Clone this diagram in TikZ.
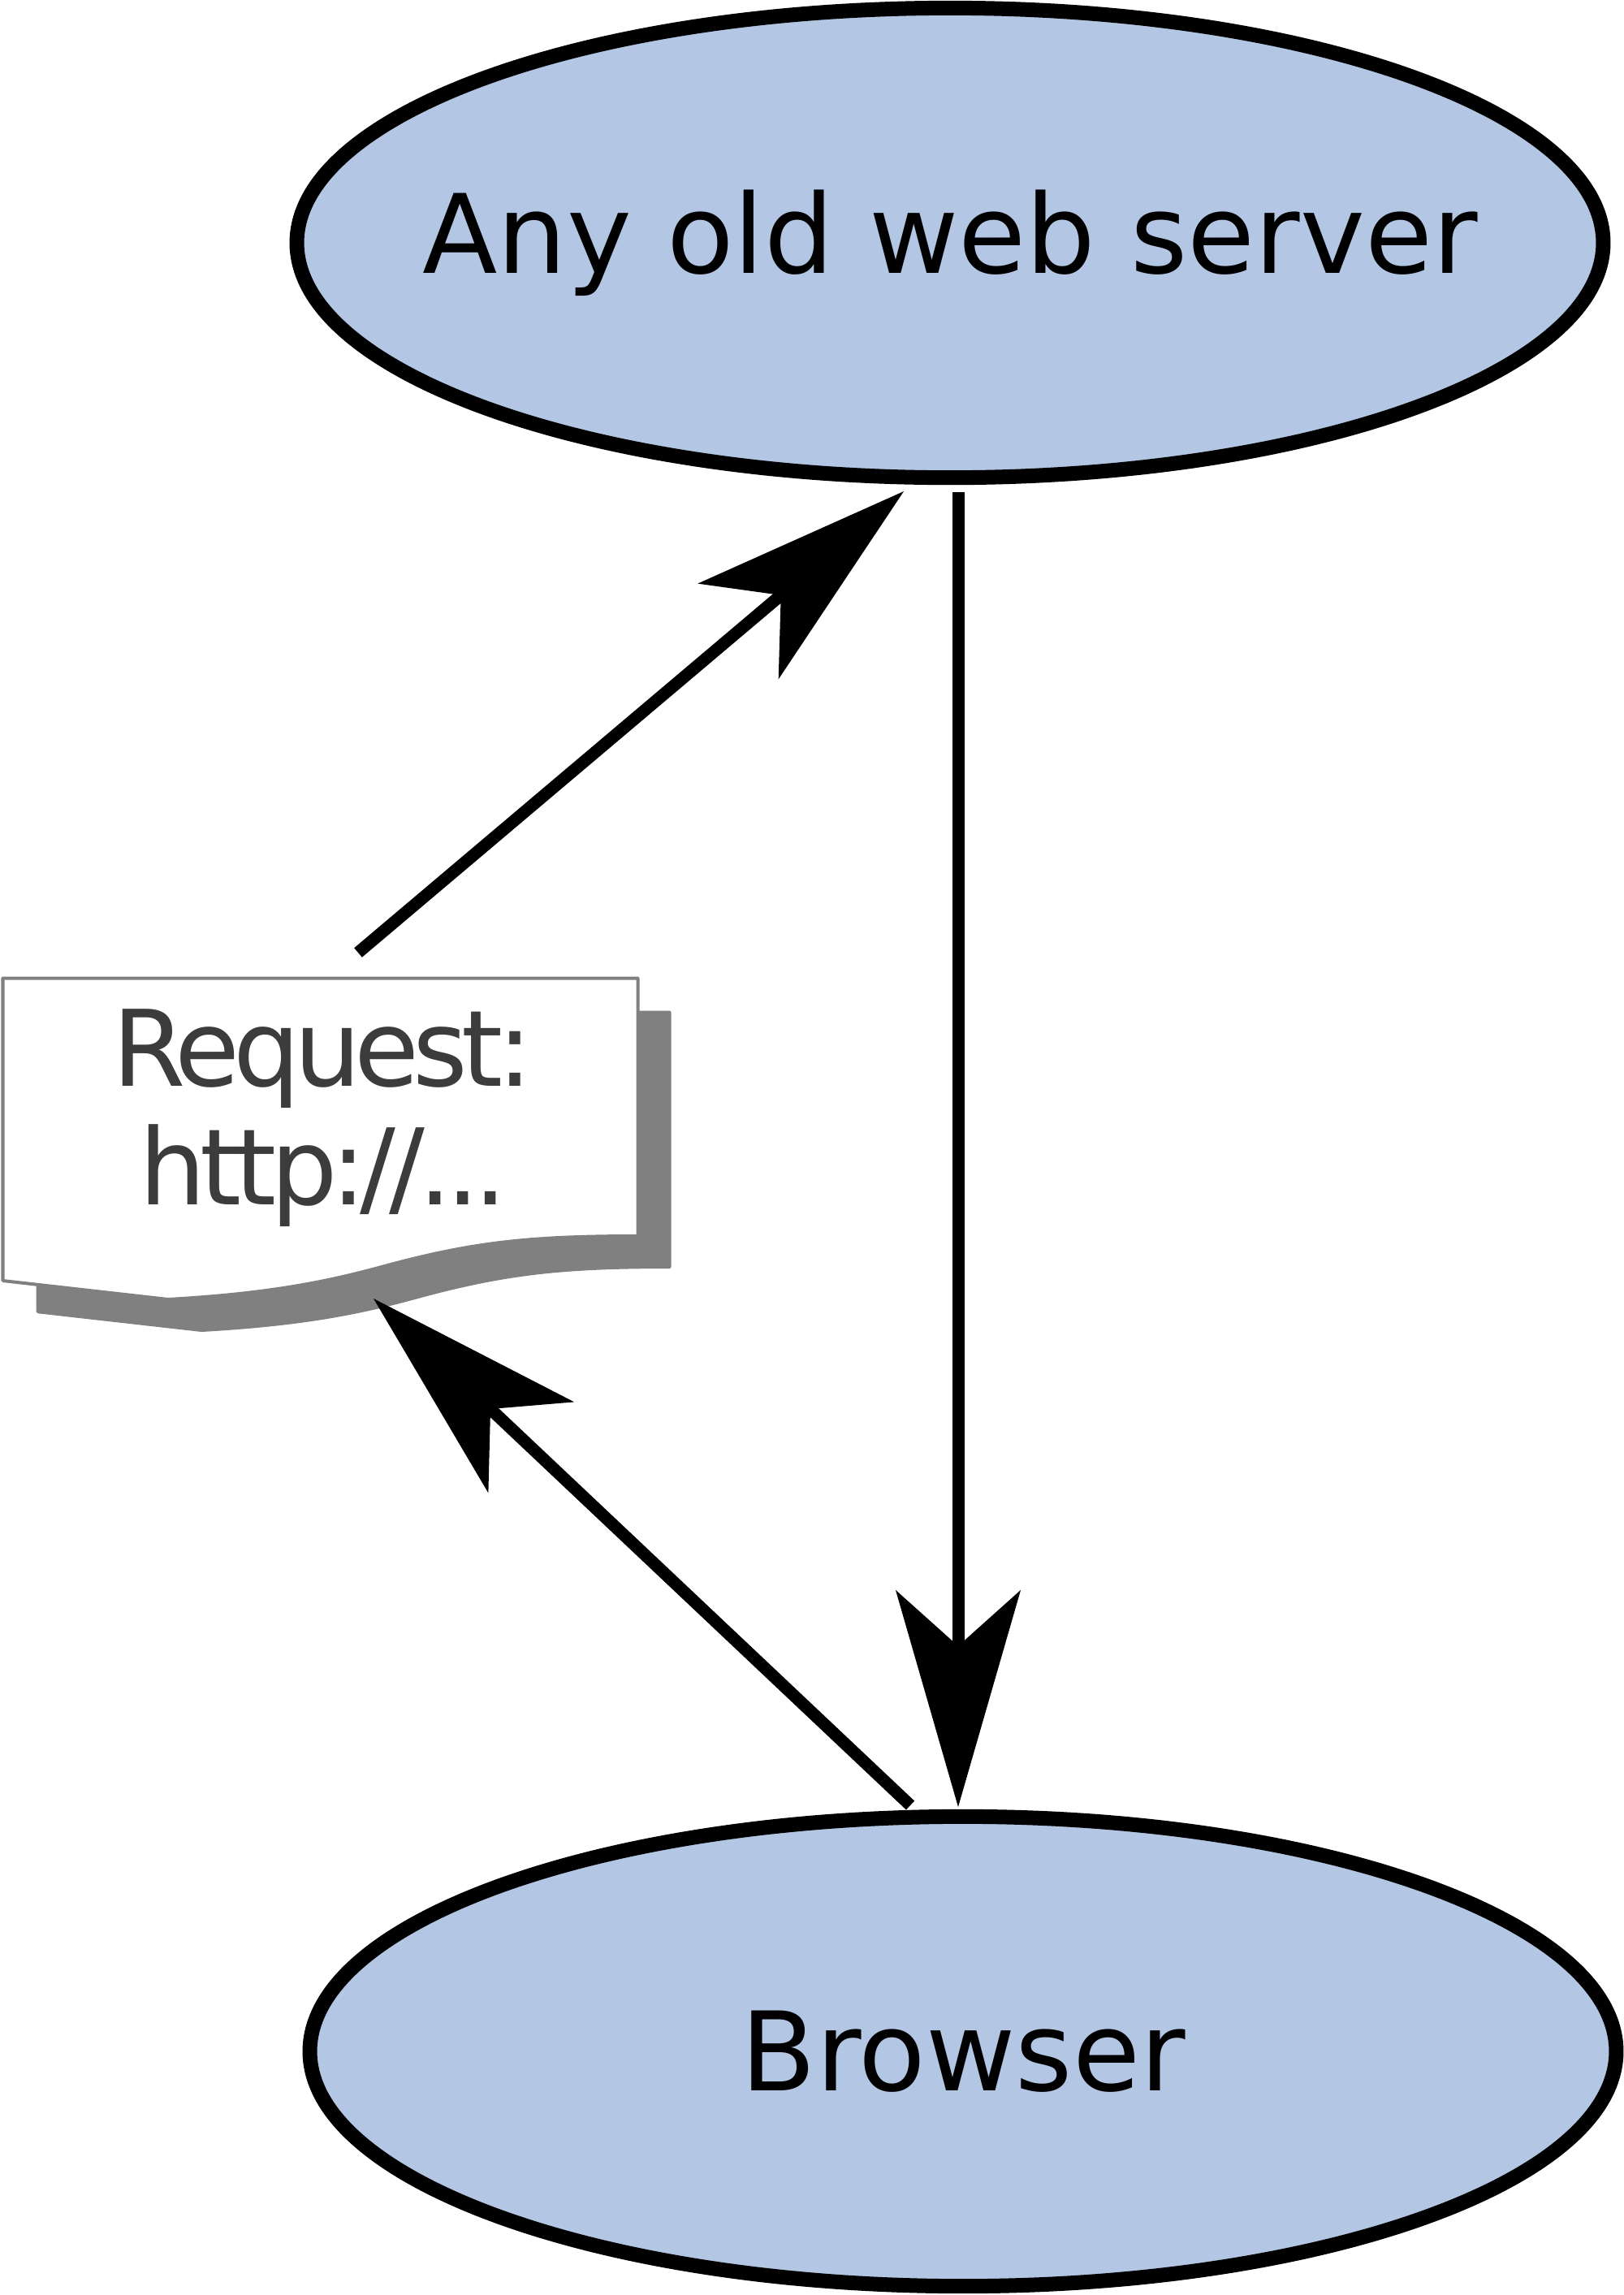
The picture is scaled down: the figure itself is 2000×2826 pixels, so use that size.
\documentclass[tikz,border=0pt]{standalone}
\usepackage{fontspec}
\setmainfont{DejaVu Sans}
\newfontfamily\reqfont[LetterSpace=-6]{DejaVu Sans}
\usetikzlibrary{arrows.meta,shapes.geometric}
\definecolor{nodeblue}{RGB}{179,198,228}
\definecolor{docgray}{RGB}{128,128,128}
\definecolor{txtgray}{RGB}{60,60,60}
\begin{document}
\begin{tikzpicture}[x=0.01cm,y=-0.01cm,
  bubble/.style={ellipse, draw=black, fill=nodeblue, line width=0.18cm,
    minimum width=16.08cm, minimum height=5.78cm, inner sep=0pt},
  bubbletext/.style={font=\fontsize{38.4}{46}\selectfont, inner sep=0pt},
  bigarrow/.style={line width=0.15cm,
    -{Stealth[length=2.67cm,width=1.54cm,inset=0.69cm,line width=0pt]}},
  reqtext/.style={text=txtgray, font=\reqfont\fontsize{37}{44}\selectfont,
    inner sep=0pt, anchor=base},
  docshape/.style={fill=white, draw=docgray, line width=0.04cm, line join=round},
  docshadow/.style={fill=docgray, rounded corners=0.02cm}]
\useasboundingbox (0,0) rectangle (2000,2826);

% nodes
\node[bubble] (server) at (1170,299) {};
\node[bubbletext] (serverlabel) at (server.center) {Any old web server};
\node[bubble] (browser) at (1186,2526) {};
\node[bubbletext] (browserlabel) at (browser.center) {Browser};

% request document: shadow, then sheet
\begin{scope}[shift={(41,40)}]
  \path[docshadow] (3.5,1204.5) -- (785.5,1204.5) -- (785.5,1522)
    .. controls (650,1522) and (580,1530) .. (470,1560)
    .. controls (400,1579) and (330,1593) .. (207,1600)
    -- (3.5,1577) -- cycle;
\end{scope}
\path[docshape] (3.5,1204.5) -- (785.5,1204.5) -- (785.5,1522)
    .. controls (650,1522) and (580,1530) .. (470,1560)
    .. controls (400,1579) and (330,1593) .. (207,1600)
    -- (3.5,1577) -- cycle;
\node[reqtext] (reqA) at (397,1337) {Request:};
\node[reqtext] (reqB) at (398,1483) {http://...};

% connector ends
\coordinate (reqTop) at (441,1173);
\coordinate (srvIn) at (1113,605);
\coordinate (srvOut) at (1180,606);
\coordinate (brIn) at (1180,2225);
\coordinate (brOut) at (1121,2223);
\coordinate (reqIn) at (460,1599);

% connectors
\draw[bigarrow] (reqTop) -- (srvIn);
\draw[bigarrow] (srvOut) -- (brIn);
\draw[bigarrow] (brOut) -- (reqIn);
\end{tikzpicture}
\end{document}
